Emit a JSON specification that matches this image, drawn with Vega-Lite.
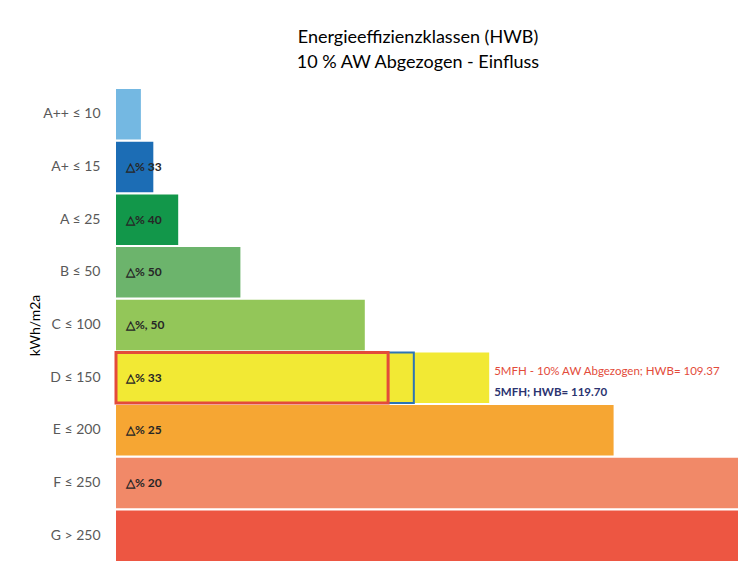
{
  "$schema": "https://vega.github.io/schema/vega-lite/v6.json",
  "width": 622,
  "height": 474,
  "autosize": "none",
  "padding": {"left": 116, "top": 88, "right": 0, "bottom": 23},
  "background": "white",
  "config": {"view": {"stroke": null}, "font": "Lato"},
  "title": {
    "text": ["Energieeffizienzklassen (HWB)", "10 % AW Abgezogen - Einfluss"],
    "font": "Lato",
    "fontSize": 18,
    "fontWeight": "normal",
    "color": "#000000",
    "anchor": "middle",
    "dx": -9,
    "offset": 16,
    "lineHeight": 25
  },
  "data": {
    "values": [
      {"klasse": "A++ ≤ 10", "wert": 10, "label": "", "farbe": "#74b8e2"},
      {"klasse": "A+ ≤ 15", "wert": 15, "label": "△% 33", "farbe": "#1c6db5"},
      {"klasse": "A ≤ 25", "wert": 25, "label": "△% 40", "farbe": "#12974a"},
      {"klasse": "B ≤ 50", "wert": 50, "label": "△% 50", "farbe": "#6cb46c"},
      {"klasse": "C ≤ 100", "wert": 100, "label": "△%, 50", "farbe": "#93c659"},
      {"klasse": "D ≤ 150", "wert": 150, "label": "△% 33", "farbe": "#f2e934"},
      {"klasse": "E ≤ 200", "wert": 200, "label": "△% 25", "farbe": "#f6a633"},
      {"klasse": "F ≤ 250", "wert": 250, "label": "△% 20", "farbe": "#f18968"},
      {"klasse": "G > 250", "wert": 250, "label": "", "farbe": "#ed5642"}
    ]
  },
  "encoding": {
    "y": {
      "field": "klasse",
      "type": "nominal",
      "sort": null,
      "scale": {"paddingInner": 0.04, "paddingOuter": 0.02},
      "axis": {
        "title": "kWh/m2a",
        "titleFont": "Lato",
        "titleFontSize": 14,
        "titleFontWeight": "normal",
        "titleColor": "#000000",
        "titlePadding": 0,
        "labelFont": "Lato",
        "labelFontSize": 14,
        "labelColor": "#595959",
        "labelPadding": 16,
        "ticks": false,
        "domain": false,
        "grid": false
      }
    }
  },
  "layer": [
    {
      "mark": {"type": "bar", "stroke": null},
      "encoding": {
        "x": {"field": "wert", "type": "quantitative", "stack": null, "scale": {"domain": [0, 250], "nice": false}, "axis": null},
        "color": {"field": "farbe", "type": "nominal", "scale": null, "legend": null}
      }
    },
    {
      "data": {"values": [{"klasse": "D ≤ 150", "hwb": 119.70, "rahmen": "blau"}, {"klasse": "D ≤ 150", "hwb": 109.37, "rahmen": "rot"}]},
      "mark": {"type": "bar", "fill": "#f2e934", "fillOpacity": 0},
      "encoding": {
        "x": {"field": "hwb", "type": "quantitative", "stack": null},
        "stroke": {"field": "rahmen", "type": "nominal", "scale": {"domain": ["blau", "rot"], "range": ["#2c74b5", "#e34b3a"]}, "legend": null},
        "strokeWidth": {"field": "rahmen", "type": "nominal", "scale": {"domain": ["blau", "rot"], "range": [2, 3]}, "legend": null}
      }
    },
    {
      "mark": {"type": "text", "align": "left", "dx": 10, "fontSize": 12, "fontWeight": "bold", "color": "#262626", "font": "Lato"},
      "encoding": {
        "x": {"datum": 0},
        "text": {"field": "label"}
      }
    },
    {
      "data": {"values": [
        {"klasse": "D ≤ 150", "anker": 150, "text": "5MFH - 10% AW Abgezogen; HWB= 109.37"}
      ]},
      "mark": {"type": "text", "align": "left", "dx": 5, "dy": -6, "fontSize": 11.5, "font": "Lato", "color": "#e34b3a"},
      "encoding": {
        "x": {"field": "anker", "type": "quantitative"},
        "text": {"field": "text"}
      }
    },
    {
      "data": {"values": [
        {"klasse": "D ≤ 150", "anker": 150, "text": "5MFH; HWB= 119.70"}
      ]},
      "mark": {"type": "text", "align": "left", "dx": 5, "dy": 15, "fontSize": 11.5, "font": "Lato", "fontWeight": "bold", "color": "#2b3370"},
      "encoding": {
        "x": {"field": "anker", "type": "quantitative"},
        "text": {"field": "text"}
      }
    }
  ]
}
